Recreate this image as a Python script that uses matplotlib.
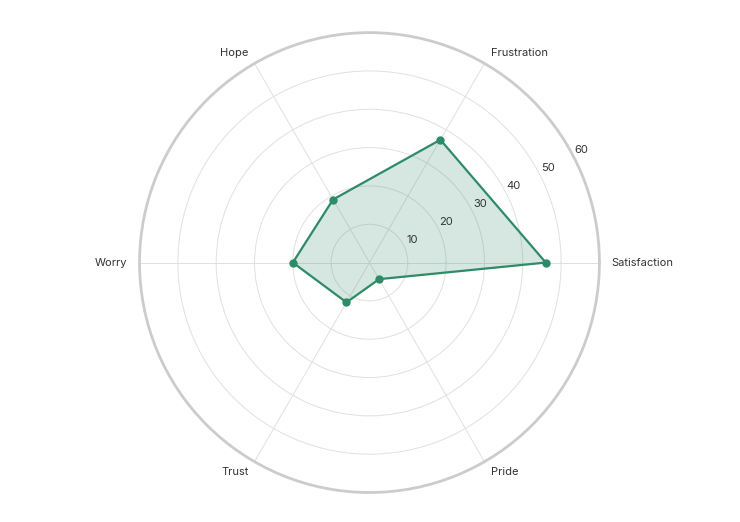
import numpy as np
import matplotlib
matplotlib.use("Agg")
import matplotlib.pyplot as plt

plt.rcParams['font.family'] = ['Inter', 'DejaVu Sans']

# data
categories = ["Satisfaction", "Frustration", "Hope", "Worry", "Trust", "Pride"]
values = [46, 37, 19, 20, 12, 5]
r_ticks = [10, 20, 30, 40, 50, 60]

line_color = "#2e8b67"
fill_color = "#2e8b67"

fig = plt.figure(figsize=(7.4, 5.22), dpi=100)
ax = fig.add_axes([0.1885, 0.0565, 0.6216, 0.881], projection="polar")

angles = np.deg2rad(np.arange(len(categories)) * 60.0)
closed_angles = np.append(angles, angles[0])
closed_values = np.append(values, values[0])

ax.fill(closed_angles, closed_values, color=fill_color, alpha=0.2, zorder=2, linewidth=0)
ax.plot(closed_angles, closed_values, color=line_color, linewidth=1.6, zorder=3)
ax.plot(angles, values, "o", color=line_color, markersize=5, zorder=4)

ax.set_ylim(0, 60)
ax.set_yticks(r_ticks[:-1])
ax.set_yticklabels([])
ax.set_xticks(angles)
ax.set_xticklabels([])
ax.grid(True, color="#e0e0e0", linewidth=0.7)
ax.spines["polar"].set_color("#cccccc")
ax.spines["polar"].set_linewidth(2.0)

# radial labels along ~28 degrees
lab_ang = np.deg2rad(28)
for t in r_ticks:
    ax.text(lab_ang, t + 2.6, str(t), ha="center", va="center",
            fontsize=8, color="#333333")

# category labels
for a, name in zip(angles, categories):
    deg = np.rad2deg(a)
    if deg < 90 or deg > 270:
        ha = "left"
    elif deg == 90 or deg == 270:
        ha = "center"
    else:
        ha = "right"
    ax.text(a, 63.2, name, ha=ha, va="center", fontsize=8, color="#333333")

fig.savefig("out.png", dpi=100)
